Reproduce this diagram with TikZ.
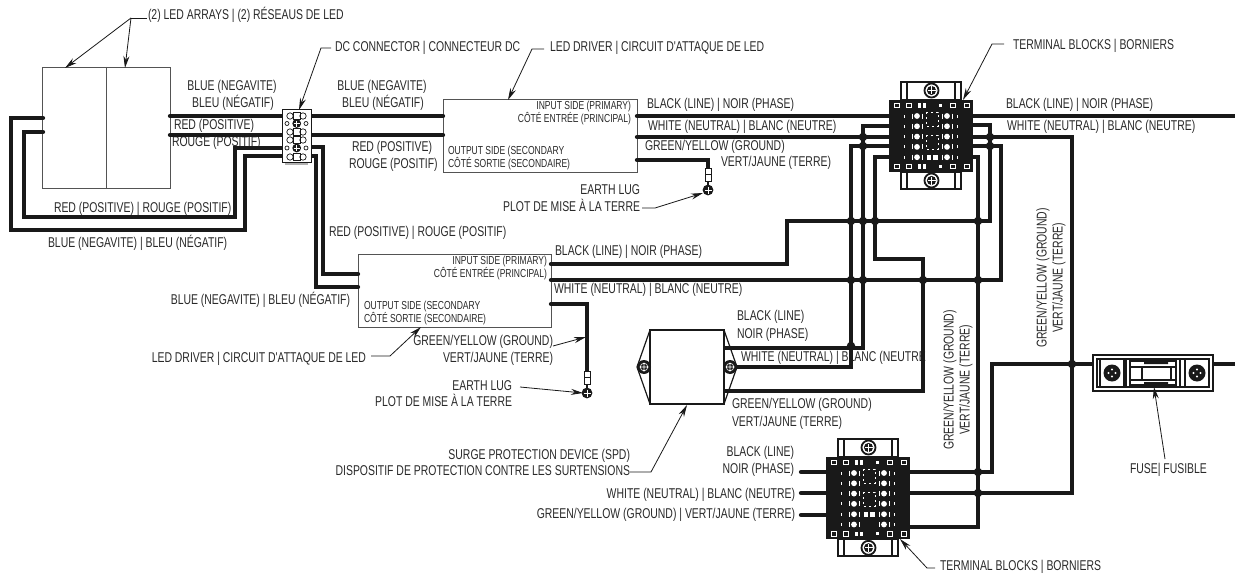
\documentclass[tikz,border=0pt]{standalone}
\usepackage{fontspec}
\setmainfont{Liberation Sans}
\newfontfamily\nar[FakeStretch=0.735]{Liberation Sans}
\usetikzlibrary{arrows.meta}
\definecolor{ink}{gray}{0.1}
\definecolor{txt}{gray}{0.16}
\tikzset{
  lbl/.style={inner sep=0,outer sep=0,text=txt,font=\nar\fontsize{14.2}{16}\selectfont,text height=10.2pt,text depth=2.8pt},
  lblw/.style={lbl,anchor=west},
  lble/.style={lbl,anchor=east},
  sml/.style={font=\nar\fontsize{11.6}{13}\selectfont,text height=8.5pt,text depth=2.3pt},
  wire/.style={draw=ink,line width=4.3pt,line cap=round,line join=miter},
  lead/.style={draw=ink,line width=.8pt},
  leadarrow/.style={lead,-{Stealth[length=12pt,width=6pt]}},
  box/.style={draw=ink!75,line width=.9pt,inner sep=0,outer sep=0,fill=white},
  jct/.style={circle,fill=ink,inner sep=0,minimum size=8.5pt},
}
\newcommand\ports[1]{\foreach \n/\a/\b in {#1}{\coordinate (\n) at (\a,\b);}}
% terminal block: centre x, top y, rows
\newcommand\tblock[3]{%
 \begin{scope}[shift={(#1,#2)}]
  \pgfmathsetmacro\hh{72+(#3-5)*10.3}
  \pgfmathsetmacro\rr{#3-1}
  \foreach \ya/\yb/\ys in {-18/0/-9.5,\hh/\hh+17/\hh+8.5}{
    \draw[ink,fill=white,line width=1.8pt] (-30,\ya) rectangle (30,\yb);
    \draw[ink,line width=2.6pt] (-24,\ya) -- (-24,\yb) (24,\ya) -- (24,\yb);
    \draw[ink,fill=white,line width=1.8pt] (0.5,\ys) circle (7);
    \fill[ink] (0.5,\ys) circle (4.6);
    \draw[white,line width=.7pt] (-3.5,\ys) -- (4.5,\ys) (0.5,\ys-4) -- (0.5,\ys+4);
  }
  \fill[ink] (-42,0) rectangle (42,\hh);
  \foreach \yy in {5.5,\hh-5.5}{
    \foreach \xx in {-34,-22,22,36}{
      \draw[white,line width=.7pt] (\xx-2.6,\yy-2.2) rectangle (\xx+2.6,\yy+2.2);
    }
    \fill[white] (-13,\yy-2.3) rectangle (-10.5,\yy+2.3);
    \fill[white] (-8,\yy-2.3) rectangle (-5,\yy+2.3);
    \fill[white] (7.5,\yy-1.6) rectangle (10.5,\yy+1.6);
  }
  \foreach \r in {0,...,\rr}{
    \pgfmathsetmacro\yy{16+10.3*\r}
    \fill[white] (-14,\yy) circle (2.9);
    \fill[white] (16,\yy) circle (2.9);
    \draw[white,line width=.5pt] (-19,\yy-2.5) -- (-19,\yy+2.5) (11,\yy-2.5) -- (11,\yy+2.5) (21,\yy-2.5) -- (21,\yy+2.5) (-9,\yy-2.5) -- (-9,\yy+2.5);
    \fill[white] (-27,\yy-1.5) rectangle (-25.7,\yy+1.5);
    \fill[white] (26,\yy-1.5) rectangle (27.3,\yy+1.5);
  }
  \foreach \yy in {19,42}{
    \draw[white,line width=.6pt,dash pattern=on 2pt off 3pt] (-5,\yy-7) rectangle (7,\yy+7);
  }
  \fill[white] (-4,54.5) rectangle (-0.5,59.5);
  \fill[white] (2,54.5) rectangle (7,59.5);
 \end{scope}}
\newcommand\lug[2]{%
  \draw[ink,fill=white,line width=.8pt] (#1-3,#2-22) rectangle (#1+3,#2-9);
  \draw[ink,line width=.8pt] (#1-3,#2-16) -- (#1+3,#2-16);
  \fill[ink] (#1-1,#2-9) rectangle (#1+1,#2-4);
  \fill[ink] (#1,#2) circle (5.4);
  \draw[white,line width=.7pt] (#1-3.5,#2) -- (#1+3.5,#2) (#1,#2-3.5) -- (#1,#2+3.5);}
\begin{document}
\begin{tikzpicture}[x=1pt,y=-1pt]
\useasboundingbox (0,0) rectangle (1235,578);
% ---------- labels
\node[lblw] (t1) at (148,16) {(2) LED ARRAYS | (2) RÉSEAUS DE LED};
\node[lblw] (t2) at (335,48) {DC CONNECTOR | CONNECTEUR DC};
\node[lblw] (t3) at (550,48) {LED DRIVER | CIRCUIT D'ATTAQUE DE LED};
\node[lblw] (t4) at (1013,46) {TERMINAL BLOCKS | BORNIERS};
\node[lbl] (a1) at (232,87) {BLUE (NEGAVITE)};
\node[lbl] (a2) at (233,104) {BLEU (NÉGATIF)};
\node[lblw] (a3) at (174,126) {RED (POSITIVE)};
\node[lblw] (a4) at (172,143) {ROUGE (POSITIF)};
\node[lbl] (b1) at (382,87) {BLUE (NEGAVITE)};
\node[lbl] (b2) at (383,104) {BLEU (NÉGATIF)};
\node[lblw] (b3) at (352,148) {RED (POSITIVE)};
\node[lblw] (b4) at (349,165) {ROUGE (POSITIF)};
\node[lblw] (c1) at (54,209) {RED (POSITIVE) | ROUGE (POSITIF)};
\node[lblw] (c2) at (48,244) {BLUE (NEGAVITE) | BLEU (NÉGATIF)};
\node[lblw] (c3) at (329,233) {RED (POSITIVE) | ROUGE (POSITIF)};
\node[lble] (c4) at (350,301) {BLUE (NEGAVITE) | BLEU (NÉGATIF)};
\node[lblw] (d1) at (647,105) {BLACK (LINE) | NOIR (PHASE)};
\node[lblw] (d2) at (648,127) {WHITE (NEUTRAL) | BLANC (NEUTRE)};
\node[lblw] (d3) at (645,147) {GREEN/YELLOW (GROUND)};
\node[lble] (d4) at (831,163) {VERT/JAUNE (TERRE)};
\node[lble] (d5) at (640,191) {EARTH LUG};
\node[lble] (d6) at (640,208) {PLOT DE MISE À LA TERRE};
\node[lblw] (e1) at (1006,105) {BLACK (LINE) | NOIR (PHASE)};
\node[lblw] (e2) at (1007,127) {WHITE (NEUTRAL) | BLANC (NEUTRE)};
\node[lblw] (f1) at (555,252) {BLACK (LINE) | NOIR (PHASE)};
\node[lblw] (f2) at (554,290) {WHITE (NEUTRAL) | BLANC (NEUTRE)};
\node[lble] (f3) at (366,359) {LED DRIVER | CIRCUIT D'ATTAQUE DE LED};
\node[lble] (f4) at (553,342) {GREEN/YELLOW (GROUND)};
\node[lble] (f5) at (553,359) {VERT/JAUNE (TERRE)};
\node[lble] (f6) at (512,387) {EARTH LUG};
\node[lble] (f7) at (512,403) {PLOT DE MISE À LA TERRE};
\node[lblw] (g1) at (737,317) {BLACK (LINE)};
\node[lblw] (g2) at (737,335) {NOIR (PHASE)};
\node[lblw] (g3) at (741,358) {WHITE (NEUTRAL) | BLANC (NEUTRE};
\node[lblw] (g4) at (732,405) {GREEN/YELLOW (GROUND)};
\node[lblw] (g5) at (732,423) {VERT/JAUNE (TERRE)};
\node[lble] (g6) at (630,456) {SURGE PROTECTION DEVICE (SPD)};
\node[lble] (g7) at (630,472) {DISPOSITIF DE PROTECTION CONTRE LES SURTENSIONS};
\node[lble] (h1) at (794,453) {BLACK (LINE)};
\node[lble] (h2) at (794,470) {NOIR (PHASE)};
\node[lble] (h3) at (795,495) {WHITE (NEUTRAL) | BLANC (NEUTRE)};
\node[lble] (h4) at (795,515) {GREEN/YELLOW (GROUND) | VERT/JAUNE (TERRE)};
\node[lblw] (h5) at (940,567) {TERMINAL BLOCKS | BORNIERS};
\node[lblw] (h6) at (1130,470) {FUSE| FUSIBLE};
\node[lbl,rotate=90] (r1) at (950,380) {GREEN/YELLOW (GROUND)};
\node[lbl,rotate=90] (r2) at (966,380) {VERT/JAUNE (TERRE)};
\node[lbl,rotate=90] (r3) at (1043,278) {GREEN/YELLOW (GROUND)};
\node[lbl,rotate=90] (r4) at (1059,278) {VERT/JAUNE (TERRE)};
% ---------- component boxes
\node[box,minimum width=127.5pt,minimum height=121pt] (array) at (106.25,127.5) {};
\draw[ink!75,line width=.9pt] (array.north) -- (array.south);
\node[box,minimum width=194pt,minimum height=73pt] (drvA) at (540,135.5) {};
\node[box,minimum width=193pt,minimum height=73pt] (drvB) at (454.5,290.5) {};
\node[lble,sml] (i1) at (631,106) {INPUT SIDE (PRIMARY)};
\node[lble,sml] (i2) at (631,119) {CÔTÉ ENTRÉE (PRINCIPAL)};
\node[lblw,sml] (i3) at (448,151) {OUTPUT SIDE (SECONDARY};
\node[lblw,sml] (i4) at (448,164) {CÔTÉ SORTIE (SECONDAIRE)};
\node[lble,sml] (j1) at (547,261) {INPUT SIDE (PRIMARY)};
\node[lble,sml] (j2) at (547,274) {CÔTÉ ENTRÉE (PRINCIPAL)};
\node[lblw,sml] (j3) at (364,306) {OUTPUT SIDE (SECONDARY};
\node[lblw,sml] (j4) at (364,319) {CÔTÉ SORTIE (SECONDAIRE)};
% ---------- wire end points
\ports{aL1/43/118,aL2/43/132,aR1/170/116,aR2/170/135,
  cL1/282/116,cL2/282/135,cL3/282/148,cL4/282/156,cR1/311/116,cR2/311/135,cR3/311/147,cR4/311/156,
  w1a/11/118,w1b/11/230,w1c/245/230,w1d/245/156,
  w2a/24/132,w2b/24/217,w2c/235/217,w2d/235/148,
  dAl1/443/116,dAl2/443/135,dAr1/637/116,dAr2/637/137,dAr3/637/160,
  dBl1/358/274,dBl2/358/287,dBr1/551/264,dBr2/551/280,dBr3/551/304,
  gAa/708/160,gAb/708/170,gBa/587/304,gBb/587/372,
  v3a/323/147,v3b/323/274,v4a/316/156,v4b/316/287,
  tAl1/889/116,tAl2/889/126,tAl3/889/137,tAl4/889/146,tAl5/889/157,
  tAr1/973/116,tAr2/973/125,tAr3/973/137,tAr4/973/146,tAr5/973/157,
  outA/1235/116,
  k1/787/264,k2/787/221,k3/990/221,k4/990/125,
  m1/851/146,m2/851/367,n1/863/126,n2/863/348,
  o1/875/157,o2/875/259,o3/923/259,o4/923/391,
  p1/1001/280,p2/1001/146,
  q1/1072/137,q2/1072/493,
  s1/978/157,s2/978/527,
  u1/992/472,u2/992/364,u3/1093/364,
  spd1/723/348,spd2/730/367,spd3/723/391,
  tBl1/826/472,tBl2/826/493,tBl3/826/515,lB1/801/472,lB2/801/493,lB3/801/515,
  tBr1/910/472,tBr2/910/493,tBr3/910/527,
  fR/1213/364,outF/1235/364}
% ---------- wires
\draw[wire] (aL1) -- (w1a) -- (w1b) -- (w1c) -- (w1d) -- (cL4);
\draw[wire] (aL2) -- (w2a) -- (w2b) -- (w2c) -- (w2d) -- (cL3);
\draw[wire] (aR1) -- (cL1);
\draw[wire] (aR2) -- (cL2);
\draw[wire] (cR1) -- (dAl1);
\draw[wire] (cR2) -- (dAl2);
\draw[wire] (cR3) -- (v3a) -- (v3b) -- (dBl1);
\draw[wire] (cR4) -- (v4a) -- (v4b) -- (dBl2);
\draw[wire] (dAr1) -- (tAl1);
\draw[wire] (dAr2) -- (tAl3);
\draw[wire] (dAr3) -- (gAa) -- (gAb);
\draw[wire] (dBr3) -- (gBa) -- (gBb);
\draw[wire] (tAr1) -- (outA);
\draw[wire] (dBr1) -- (k1) -- (k2) -- (k3) -- (k4) -- (tAr2);
\draw[wire] (dBr2) -- (p1) -- (p2) -- (tAr4);
\draw[wire] (tAl4) -- (m1) -- (m2) -- (spd2);
\draw[wire] (tAl2) -- (n1) -- (n2) -- (spd1);
\draw[wire] (tAl5) -- (o1) -- (o2) -- (o3) -- (o4) -- (spd3);
\draw[wire] (tAr3) -- (q1) -- (q2) -- (tBr2);
\draw[wire] (tAr5) -- (s1) -- (s2) -- (tBr3);
\draw[wire] (tBr1) -- (u1) -- (u2) -- (u3);
\draw[wire] (fR) -- (outF);
\draw[wire] (lB1) -- (tBl1);
\draw[wire] (lB2) -- (tBl2);
\draw[wire] (lB3) -- (tBl3);
% ---------- junctions
\foreach \jx/\jy in {863/137,863/146,990/137,990/146,851/221,863/221,875/221,978/221,851/280,863/280,923/280,978/280,851/346,978/472,978/493,1072/364}
  \node[jct] at (\jx,\jy) {};
% ---------- earth lugs
\lug{708}{190}
\lug{587}{393}
% ---------- DC connector
\fill[gray!60] (285,160) rectangle (308,165);
\node[box,draw=ink,minimum width=29pt,minimum height=53pt] (dc) at (296.5,136) {};
\foreach \yy in {116,132,140,157}{
  \draw[ink,line width=.7pt] (293,\yy-3.5) rectangle (300,\yy+3.5);
  \draw[ink,line width=.7pt] (290,\yy) circle (3.2) (303,\yy) circle (3.2);
}
\foreach \yy in {123.5,148}{
  \fill[ink] (296.7,\yy) circle (4.4);
  \draw[white,line width=.5pt] (293.7,\yy) -- (299.7,\yy) (296.7,\yy-3) -- (296.7,\yy+3);
  \draw[ink,line width=.7pt] (287,\yy) circle (2) (306,\yy) circle (2);
}
% ---------- terminal blocks
\tblock{931}{100}{5}
\tblock{868}{457}{6}
% ---------- SPD
\draw[ink,line width=1.2pt] (650,330) -- (637,367) -- (650,404);
\draw[ink,line width=1.2pt] (724,330) -- (737,367) -- (724,404);
\node[box,draw=ink,line width=1.6pt,minimum width=74pt,minimum height=74pt] (spd) at (687,367) {};
\foreach \sx in {644,730}{
  \fill[ink] (\sx,367) circle (7);
  \draw[white,line width=.6pt] (\sx,367) circle (3.8) (\sx-4.5,367) -- (\sx+4.5,367) (\sx,362.5) -- (\sx,371.5);
}
% ---------- fuse
\node[draw=ink,fill=white,line width=2.4pt,inner sep=0,outer sep=0,minimum width=120pt,minimum height=36pt] (fuse) at (1153,373) {};
\draw[ink,line width=1.6pt] (1097,359) rectangle (1209,387);
\draw[ink,line width=1.6pt] (1126,359) -- (1126,387) (1180,359) -- (1180,387);
\draw[ink,line width=1.6pt] (1130,361) rectangle (1176,385);
\draw[ink,line width=1.6pt] (1142,367) rectangle (1171,380);
\draw[ink,line width=1.6pt] (1130,367) -- (1142,367) (1130,380) -- (1142,380) (1171,367) -- (1176,367) (1171,380) -- (1176,380);
\fill[ink] (1144,360) rectangle (1168,364) (1144,382) rectangle (1168,386);
\foreach \sx in {1112,1197}{
  \draw[ink,line width=1.6pt] (\sx-12,359) -- (\sx-12,387) (\sx+12,359) -- (\sx+12,387);
  \fill[ink] (\sx,373) circle (8.5);
  \fill[white] (\sx-3.5,373) circle (1.1) (\sx+3.5,373) circle (1.1) (\sx,369.5) circle (1.1) (\sx,376.5) circle (1.1);
}
% ---------- leaders
\ports{L1a/147/18,L1b/131/18,L1c/65/68,L1d/125/68,
  L2a/331/48,L2b/321/48,L2c/299/110,
  L3a/544/49,L3b/532/49,L3c/508/100,
  L4a/1004/44,L4b/992/44,L4c/963/100}
\draw[lead] (L1a) -- (L1b);
\draw[leadarrow] (L1b) -- (L1c);
\draw[leadarrow] (L1b) -- (L1d);
\draw[leadarrow] (L2a) -- (L2b) -- (L2c);
\draw[leadarrow] (L3a) -- (L3b) -- (L3c);
\draw[leadarrow] (L4a) -- (L4b) -- (L4c);
\ports{M1a/642/208,M1b/655/208,M1c/703/193,
  M2a/371/356,M2b/390/356,M2c/421/327,
  M3a/553/346,M3b/586/337,
  M4a/520/387,M4b/583/393,
  M5a/630/472,M5b/651/472,M5c/687/405,
  M6a/935/568,M6b/927/568,M6c/900/539,
  M7a/1165/459,M7b/1154/387}
\draw[leadarrow] (M1a) -- (M1b) -- (M1c);
\draw[leadarrow] (M2a) -- (M2b) -- (M2c);
\draw[leadarrow] (M3a) -- (M3b);
\draw[leadarrow] (M4a) -- (M4b);
\draw[leadarrow] (M5a) -- (M5b) -- (M5c);
\draw[leadarrow] (M6a) -- (M6b) -- (M6c);
\draw[leadarrow] (M7a) -- (M7b);
\end{tikzpicture}
\end{document}
